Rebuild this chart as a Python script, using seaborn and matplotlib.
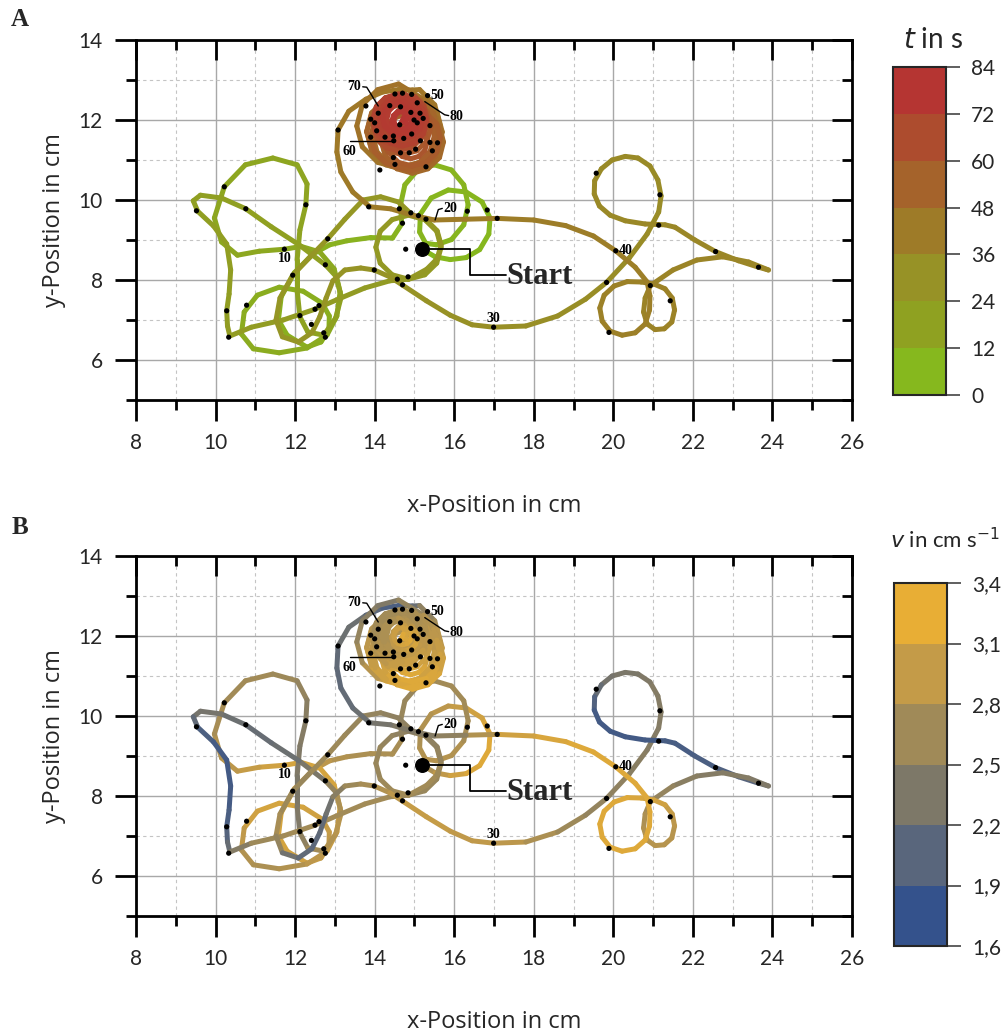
import numpy as np
import matplotlib
matplotlib.use("Agg")
import matplotlib.pyplot as plt
import seaborn as sns
from matplotlib.collections import LineCollection
from matplotlib.colors import LinearSegmentedColormap, ListedColormap, BoundaryNorm, Normalize

# ---------------- data: track waypoints (x cm, y cm, t s, v cm/s) ----------------
path_start = [(15.20, 8.77, 0.00, 2.7), (15.52, 8.58, 0.15, 2.9), (15.90, 8.51, 0.30, 3.1), (16.30, 8.56, 0.45, 3.2),
              (16.64, 8.76, 0.60, 3.3), (16.87, 9.15, 0.75, 3.3), (16.90, 9.55, 0.90, 3.3), (16.70, 9.95, 1.05, 3.2),
              (16.30, 10.20, 1.20, 3.1), (15.85, 10.25, 1.35, 3.0), (15.42, 10.05, 1.50, 2.9), (15.15, 9.65, 1.65, 2.8),
              (15.13, 9.20, 1.80, 2.8), (15.28, 8.92, 1.92, 2.9), (15.55, 8.88, 2.02, 2.9), (15.93, 9.01, 2.15, 2.9),
              (16.24, 9.38, 2.30, 2.8), (16.35, 9.88, 2.45, 2.7), (16.24, 10.38, 2.60, 2.7), (15.93, 10.75, 2.75, 2.7),
              (15.50, 10.88, 2.90, 2.7), (15.08, 10.75, 3.05, 2.6), (14.76, 10.38, 3.20, 2.6), (14.65, 9.88, 3.35, 2.6),
              (14.68, 9.40, 3.50, 2.7), (14.45, 9.05, 3.70, 2.8), (13.90, 9.06, 3.90, 2.8), (13.30, 8.98, 4.15, 2.8),
              (12.87, 8.88, 4.40, 2.9)]
path_lowleft = [(12.45, 8.65, 4.6, 3.0), (11.98, 8.18, 4.85, 3.1), (11.65, 7.58, 5.1, 3.2), (11.58, 7.00, 5.3, 3.2),
                (11.80, 6.62, 5.5, 3.2), (12.30, 6.32, 5.75, 3.1), (12.65, 6.45, 5.9, 3.0), (12.85, 6.75, 6.05, 3.0),
                (12.86, 7.10, 6.2, 3.0), (12.68, 7.42, 6.4, 3.1), (12.20, 7.72, 6.6, 3.2), (11.60, 7.82, 6.8, 3.2),
                (11.05, 7.62, 7.0, 3.2), (10.72, 7.20, 7.2, 3.1), (10.65, 6.65, 7.4, 2.9), (10.95, 6.28, 7.6, 2.8),
                (11.60, 6.18, 7.85, 2.8), (12.30, 6.30, 8.1, 2.9), (12.80, 6.62, 8.3, 3.0), (13.05, 7.10, 8.5, 3.1),
                (13.13, 7.70, 8.75, 3.2), (12.98, 8.28, 9.0, 3.2), (12.62, 8.70, 9.25, 3.2), (12.15, 8.84, 9.5, 3.2),
                (11.74, 8.77, 10.0, 3.2)]
path_upleft = [(11.10, 8.72, 10.25, 3.1), (10.55, 8.62, 10.45, 3.0), (10.15, 8.95, 10.65, 2.9), (9.97, 9.55, 10.85, 2.8),
               (10.22, 10.33, 11.1, 2.7), (10.75, 10.88, 11.35, 2.7), (11.44, 11.05, 11.6, 2.7), (12.05, 10.88, 11.85, 2.6),
               (12.30, 10.40, 12.05, 2.5), (12.27, 9.88, 12.25, 2.4), (12.12, 9.25, 12.5, 2.4), (12.05, 8.50, 12.8, 2.3),
               (12.05, 7.75, 13.1, 2.3), (12.12, 7.08, 13.35, 2.4), (12.32, 6.70, 13.55, 2.6), (12.72, 6.62, 13.75, 2.8),
               (13.02, 7.05, 13.95, 2.9), (13.16, 7.58, 14.15, 2.9), (13.04, 8.08, 14.35, 2.7), (12.77, 8.37, 14.5, 2.4),
               (12.10, 8.88, 14.85, 2.2), (11.40, 9.33, 15.2, 2.1), (10.76, 9.78, 15.55, 2.1), (10.15, 10.05, 15.85, 2.2),
               (9.62, 10.12, 16.1, 2.3), (9.44, 9.98, 16.25, 2.2), (9.55, 9.72, 16.4, 1.9), (9.95, 9.35, 16.7, 1.8),
               (10.28, 8.90, 17.05, 1.75), (10.38, 8.25, 17.45, 1.75), (10.34, 7.65, 17.8, 1.8), (10.28, 7.23, 18.05, 1.85),
               (10.30, 6.85, 18.3, 2.0), (10.36, 6.60, 18.45, 2.2)]
path_middle = [(10.90, 6.82, 18.75, 2.6), (11.70, 7.00, 19.05, 2.7), (12.50, 7.27, 19.35, 2.7), (13.15, 7.55, 19.6, 2.7),
               (13.75, 7.80, 19.85, 2.7), (14.38, 7.98, 20.1, 2.7), (14.85, 8.02, 20.3, 2.6), (15.26, 8.13, 20.45, 2.6),
               (15.56, 8.42, 20.6, 2.6), (15.67, 8.82, 20.75, 2.6), (15.56, 9.22, 20.9, 2.6), (15.26, 9.51, 21.05, 2.5),
               (14.85, 9.62, 21.2, 2.5), (14.44, 9.51, 21.35, 2.5), (14.14, 9.22, 21.5, 2.6), (14.03, 8.82, 21.65, 2.6),
               (14.14, 8.42, 21.8, 2.6), (14.44, 8.13, 21.95, 2.7), (14.85, 8.02, 22.1, 2.7), (15.31, 8.27, 22.3, 2.7),
               (15.57, 8.53, 22.45, 2.7), (15.67, 8.88, 22.6, 2.6), (15.57, 9.23, 22.75, 2.5), (15.31, 9.49, 22.9, 2.5),
               (14.95, 9.62, 23.05, 2.5), (14.60, 9.95, 23.2, 2.5), (14.15, 10.08, 23.35, 2.5), (13.71, 10.00, 23.5, 2.6),
               (13.25, 9.52, 23.75, 2.6), (12.82, 9.03, 24.0, 2.7), (12.35, 8.55, 24.25, 2.6), (11.94, 8.12, 24.5, 2.6),
               (11.62, 7.55, 24.75, 2.7), (11.52, 7.00, 24.95, 2.8), (11.68, 6.58, 25.15, 2.3), (12.08, 6.45, 25.35, 2.1),
               (12.42, 6.68, 25.55, 2.0), (12.62, 7.08, 25.75, 2.0), (12.78, 7.55, 26.0, 2.1), (12.95, 7.98, 26.25, 2.3),
               (13.25, 8.25, 26.45, 2.6), (13.65, 8.30, 26.65, 2.7), (13.99, 8.25, 26.85, 2.8), (14.38, 8.08, 27.05, 2.9),
               (14.72, 7.86, 27.3, 3.0), (15.30, 7.48, 27.8, 3.1), (15.90, 7.12, 28.4, 3.0), (16.45, 6.88, 29.1, 3.0),
               (16.99, 6.82, 30.0, 3.0)]
path_right = [(17.80, 6.85, 30.35, 2.9), (18.60, 7.10, 30.65, 2.7), (19.30, 7.52, 31.0, 2.6), (19.83, 7.94, 31.25, 2.5),
              (20.40, 8.55, 31.55, 2.5), (20.85, 9.15, 31.8, 2.4), (21.14, 9.70, 32.0, 2.4), (21.20, 10.10, 32.15, 2.4),
              (21.12, 10.50, 32.3, 2.4), (20.92, 10.85, 32.45, 2.4), (20.62, 11.05, 32.6, 2.3), (20.30, 11.09, 32.75, 2.3),
              (19.97, 11.00, 32.9, 2.3), (19.70, 10.78, 33.05, 2.2), (19.53, 10.48, 33.2, 2.0), (19.52, 10.15, 33.35, 1.8),
              (19.65, 9.85, 33.5, 1.75), (19.92, 9.62, 33.65, 1.75), (20.30, 9.48, 33.85, 1.75), (20.80, 9.40, 34.05, 1.75),
              (21.30, 9.38, 34.25, 1.8), (21.55, 9.32, 34.35, 1.8), (22.05, 9.00, 34.6, 1.8), (22.57, 8.71, 34.85, 1.85),
              (23.15, 8.48, 35.1, 1.9), (23.65, 8.32, 35.3, 2.0), (23.90, 8.25, 35.4, 2.3), (23.40, 8.45, 35.6, 2.4),
              (22.75, 8.58, 35.85, 2.4), (22.10, 8.50, 36.1, 2.4), (21.50, 8.25, 36.35, 2.5), (20.93, 7.86, 36.6, 2.6),
              (20.80, 7.55, 36.72, 2.8), (20.76, 7.20, 36.84, 2.8), (20.85, 6.90, 36.96, 2.9), (21.05, 6.76, 37.08, 2.9),
              (21.28, 6.78, 37.2, 2.9), (21.47, 6.95, 37.32, 2.9), (21.54, 7.25, 37.44, 2.9), (21.48, 7.55, 37.56, 3.0),
              (21.30, 7.78, 37.68, 3.1), (21.02, 7.90, 37.8, 3.2), (20.70, 7.95, 37.92, 3.2), (20.35, 7.96, 38.05, 3.3),
              (20.02, 7.85, 38.2, 3.3), (19.77, 7.62, 38.35, 3.3), (19.66, 7.30, 38.5, 3.3), (19.72, 6.97, 38.65, 3.3),
              (19.92, 6.72, 38.8, 3.3), (20.22, 6.62, 38.95, 3.3), (20.55, 6.68, 39.1, 3.3), (20.80, 6.90, 39.25, 3.3),
              (20.91, 7.25, 39.4, 3.3), (20.92, 7.60, 39.55, 3.3), (20.85, 7.95, 39.7, 3.3), (20.55, 8.32, 39.85, 3.3),
              (20.06, 8.73, 40.0, 3.3)]
path_return = [(19.50, 9.10, 40.25, 3.3), (18.80, 9.36, 40.55, 3.3), (18.00, 9.50, 40.85, 3.2), (17.09, 9.54, 41.15, 3.1),
               (16.30, 9.52, 41.45, 2.6), (15.50, 9.50, 41.75, 2.4), (14.95, 9.62, 41.95, 2.4), (14.40, 9.78, 42.15, 2.3),
               (13.88, 9.83, 42.35, 2.2), (13.45, 10.20, 42.6, 2.1), (13.15, 10.70, 42.85, 2.05), (13.05, 11.20, 43.1, 2.0),
               (13.08, 11.75, 43.35, 2.1), (13.35, 12.22, 43.6, 2.2), (13.78, 12.52, 43.85, 2.1), (14.20, 12.70, 44.1, 1.9),
               (14.60, 12.76, 44.35, 1.8), (14.95, 12.75, 44.6, 1.85)]

# circling phase at the feeding spot (t = 44.6 ... 84 s), 12 waypoints per turn
blob_x = [15.13, 15.51, 15.65, 15.51, 15.13, 14.60, 14.08, 13.69, 13.55, 13.69, 14.08, 14.60,
          15.23, 15.57, 15.70, 15.57, 15.23, 14.75, 14.28, 13.93, 13.80, 13.93, 14.28, 14.75,
          15.23, 15.54, 15.65, 15.54, 15.23, 14.80, 14.38, 14.06, 13.95, 14.06, 14.38, 14.80,
          15.34, 15.63, 15.73, 15.63, 15.34, 14.95, 14.56, 14.28, 14.17, 14.28, 14.56, 14.95,
          15.15, 15.48, 15.60, 15.48, 15.15, 14.70, 14.25, 13.92, 13.80, 13.92, 14.25, 14.70,
          15.26, 15.52, 15.62, 15.52, 15.26, 14.90, 14.54, 14.28, 14.18, 14.28, 14.54, 14.90,
          15.10, 15.39, 15.50, 15.39, 15.10, 14.70, 14.30, 14.01, 13.90, 14.01, 14.30, 14.70,
          15.30, 15.56, 15.65, 15.56, 15.30, 14.95, 14.60, 14.34, 14.25, 14.34, 14.60, 14.95,
          15.06, 15.32, 15.42, 15.32, 15.06, 14.70, 14.34, 14.08, 13.98, 14.08, 14.34, 14.70,
          15.11, 15.26, 15.32, 15.26, 15.11, 14.90, 14.69, 14.54, 14.48, 14.54, 14.69, 14.90,
          14.99, 15.24, 15.33, 15.24, 14.99, 14.65, 14.31, 14.06, 13.97, 14.06, 14.31, 14.65,
          15.05, 15.16, 15.20, 15.16, 15.05, 14.90, 14.75, 14.64, 14.60, 14.64, 14.75, 14.90,
          14.91, 15.14, 15.22, 15.14, 14.91, 14.60, 14.29, 14.06, 13.98, 14.06, 14.29, 14.60,
          15.01, 15.24, 15.32, 15.24, 15.01, 14.70, 14.39, 14.16, 14.08, 14.16, 14.39, 14.70,
          14.93, 15.16, 15.25, 15.16, 14.93, 14.60, 14.28, 14.04, 13.95, 14.04, 14.28, 14.60,
          15.03, 15.23, 15.30, 15.23, 15.03, 14.75, 14.48, 14.27, 14.20, 14.27, 14.48, 14.75,
          14.84, 15.05, 15.13, 15.05, 14.84, 14.55, 14.26, 14.05, 13.97, 14.05, 14.26, 14.55,
          15.00, 15.22, 15.30, 15.22, 15.00, 14.70, 14.40, 14.18, 14.10, 14.18, 14.40, 14.70,
          14.90, 15.08, 15.15, 15.08, 14.90, 14.65, 14.40, 14.22, 14.15, 14.22, 14.40, 14.65,
          14.98, 15.14, 15.20, 15.14, 14.98, 14.75, 14.53, 14.36, 14.30, 14.36, 14.53, 14.75,
          14.80, 14.95, 15.00, 14.95, 14.80, 14.60, 14.40, 14.25, 14.20, 14.25, 14.40, 14.60,
          14.91, 15.03, 15.07, 15.03, 14.91, 14.75, 14.59, 14.47, 14.43, 14.47, 14.59, 14.75,
          14.81, 14.89, 14.92, 14.89, 14.81, 14.70, 14.59, 14.51, 14.48, 14.51, 14.59, 14.70,
          14.80, 14.78, 14.68, 14.72]
blob_y = [12.76, 12.38, 11.85, 11.33, 10.94, 10.80, 10.94, 11.33, 11.85, 12.38, 12.76, 12.90,
          12.52, 12.18, 11.70, 11.23, 10.88, 10.75, 10.88, 11.23, 11.70, 12.18, 12.52, 12.65,
          12.36, 12.05, 11.62, 11.20, 10.88, 10.77, 10.88, 11.20, 11.62, 12.05, 12.36, 12.47,
          12.13, 11.84, 11.45, 11.06, 10.78, 10.67, 10.78, 11.06, 11.45, 11.84, 12.13, 12.23,
          12.50, 12.17, 11.72, 11.27, 10.94, 10.82, 10.94, 11.27, 11.72, 12.17, 12.50, 12.62,
          12.07, 11.81, 11.45, 11.09, 10.83, 10.73, 10.83, 11.09, 11.45, 11.81, 12.07, 12.17,
          12.29, 12.00, 11.60, 11.20, 10.91, 10.80, 10.91, 11.20, 11.60, 12.00, 12.29, 12.40,
          12.16, 11.90, 11.55, 11.20, 10.94, 10.85, 10.94, 11.20, 11.55, 11.90, 12.16, 12.25,
          12.47, 12.21, 11.85, 11.49, 11.23, 11.13, 11.23, 11.49, 11.85, 12.21, 12.47, 12.57,
          11.81, 11.66, 11.45, 11.24, 11.09, 11.03, 11.09, 11.24, 11.45, 11.66, 11.81, 11.87,
          12.54, 12.29, 11.95, 11.61, 11.36, 11.27, 11.36, 11.61, 11.95, 12.29, 12.54, 12.63,
          12.01, 11.90, 11.75, 11.60, 11.49, 11.45, 11.49, 11.60, 11.75, 11.90, 12.01, 12.05,
          12.39, 12.16, 11.85, 11.54, 11.31, 11.23, 11.31, 11.54, 11.85, 12.16, 12.39, 12.47,
          12.59, 12.36, 12.05, 11.74, 11.51, 11.43, 11.51, 11.74, 12.05, 12.36, 12.59, 12.67,
          12.56, 12.33, 12.00, 11.68, 11.44, 11.35, 11.44, 11.68, 12.00, 12.33, 12.56, 12.65,
          12.53, 12.33, 12.05, 11.78, 11.57, 11.50, 11.57, 11.78, 12.05, 12.33, 12.53, 12.60,
          12.55, 12.34, 12.05, 11.76, 11.55, 11.47, 11.55, 11.76, 12.05, 12.34, 12.55, 12.63,
          12.47, 12.25, 11.95, 11.65, 11.43, 11.35, 11.43, 11.65, 11.95, 12.25, 12.47, 12.55,
          12.53, 12.35, 12.10, 11.85, 11.67, 11.60, 11.67, 11.85, 12.10, 12.35, 12.53, 12.60,
          12.39, 12.23, 12.00, 11.78, 11.61, 11.55, 11.61, 11.78, 12.00, 12.23, 12.39, 12.45,
          12.40, 12.25, 12.05, 11.85, 11.70, 11.65, 11.70, 11.85, 12.05, 12.25, 12.40, 12.45,
          12.23, 12.11, 11.95, 11.79, 11.67, 11.63, 11.67, 11.79, 11.95, 12.11, 12.23, 12.27,
          12.19, 12.11, 12.00, 11.89, 11.81, 11.78, 11.81, 11.89, 12.00, 12.11, 12.19, 12.22,
          12.05, 11.92, 11.95, 12.05]
blob_t = [44.8, 45.0, 45.3, 45.5, 45.7, 45.9, 46.1, 46.3, 46.6, 46.8, 47.0, 47.2,
          47.4, 47.6, 47.8, 48.0, 48.2, 48.4, 48.6, 48.8, 49.0, 49.2, 49.4, 49.6,
          49.8, 50.0, 50.2, 50.3, 50.5, 50.7, 50.9, 51.1, 51.3, 51.4, 51.6, 51.8,
          52.0, 52.1, 52.3, 52.5, 52.6, 52.8, 53.0, 53.1, 53.3, 53.5, 53.6, 53.8,
          54.0, 54.2, 54.4, 54.5, 54.7, 54.9, 55.1, 55.3, 55.5, 55.6, 55.8, 56.0,
          56.2, 56.3, 56.5, 56.6, 56.8, 56.9, 57.1, 57.2, 57.4, 57.5, 57.7, 57.8,
          58.0, 58.1, 58.3, 58.5, 58.6, 58.8, 59.0, 59.1, 59.3, 59.5, 59.6, 59.8,
          60.0, 60.1, 60.3, 60.4, 60.6, 60.7, 60.9, 61.0, 61.2, 61.3, 61.5, 61.6,
          61.8, 61.9, 62.1, 62.2, 62.4, 62.5, 62.7, 62.8, 63.0, 63.1, 63.3, 63.4,
          63.5, 63.7, 63.8, 63.9, 64.1, 64.2, 64.3, 64.5, 64.6, 64.7, 64.9, 65.0,
          65.1, 65.3, 65.4, 65.6, 65.7, 65.9, 66.0, 66.1, 66.3, 66.4, 66.6, 66.7,
          66.8, 67.0, 67.1, 67.2, 67.3, 67.5, 67.6, 67.7, 67.8, 68.0, 68.1, 68.2,
          68.3, 68.5, 68.6, 68.7, 68.9, 69.0, 69.1, 69.3, 69.4, 69.5, 69.7, 69.8,
          69.9, 70.1, 70.2, 70.3, 70.5, 70.6, 70.7, 70.9, 71.0, 71.1, 71.3, 71.4,
          71.5, 71.7, 71.8, 71.9, 72.1, 72.2, 72.3, 72.5, 72.6, 72.7, 72.9, 73.0,
          73.1, 73.2, 73.4, 73.5, 73.6, 73.7, 73.8, 73.9, 74.1, 74.2, 74.3, 74.4,
          74.5, 74.7, 74.8, 74.9, 75.0, 75.2, 75.3, 75.4, 75.5, 75.7, 75.8, 75.9,
          76.0, 76.2, 76.3, 76.4, 76.5, 76.7, 76.8, 76.9, 77.0, 77.2, 77.3, 77.4,
          77.5, 77.6, 77.7, 77.8, 78.0, 78.1, 78.2, 78.3, 78.4, 78.5, 78.6, 78.7,
          78.8, 78.9, 79.0, 79.1, 79.2, 79.3, 79.4, 79.5, 79.6, 79.7, 79.8, 79.9,
          80.0, 80.1, 80.2, 80.3, 80.4, 80.5, 80.6, 80.7, 80.8, 80.9, 80.95, 81.0,
          81.1, 81.15, 81.2, 81.3, 81.4, 81.45, 81.5, 81.6, 81.7, 81.75, 81.8, 81.9,
          81.95, 82.0, 82.1, 82.15, 82.2, 82.25, 82.3, 82.35, 82.4, 82.45, 82.5, 82.6,
          83.0, 83.4, 83.7, 84.0]
blob_v = [2.4, 2.6, 2.8, 3.0, 3.1, 3.1, 3.0, 2.8, 2.6, 2.5, 2.4, 2.3,
          2.8, 2.9, 3.0, 3.1, 3.2, 3.3, 3.2, 3.1, 3.0, 2.9, 2.8, 2.7,
          2.8, 2.9, 3.0, 3.1, 3.2, 3.3, 3.2, 3.1, 3.0, 2.9, 2.8, 2.7,
          2.9, 3.0, 3.1, 3.2, 3.3, 3.3, 3.3, 3.2, 3.1, 3.0, 2.9, 2.8,
          2.8, 2.9, 3.0, 3.1, 3.2, 3.3, 3.2, 3.1, 3.0, 2.9, 2.8, 2.7,
          2.9, 3.0, 3.1, 3.2, 3.3, 3.3, 3.3, 3.2, 3.1, 3.0, 2.9, 2.8,
          2.8, 2.9, 3.0, 3.1, 3.2, 3.3, 3.2, 3.1, 3.0, 2.9, 2.8, 2.7,
          2.9, 3.0, 3.1, 3.2, 3.3, 3.3, 3.3, 3.2, 3.1, 3.0, 2.9, 2.8,
          2.8, 2.9, 3.0, 3.1, 3.2, 3.2, 3.1, 3.0, 2.9, 2.8, 2.7, 2.7,
          2.9, 3.0, 3.1, 3.2, 3.3, 3.3, 3.3, 3.2, 3.1, 3.0, 2.9, 2.8,
          2.8, 2.8, 2.9, 3.0, 3.1, 3.1, 3.0, 2.9, 2.8, 2.7, 2.7, 2.7,
          2.9, 3.0, 3.1, 3.2, 3.3, 3.3, 3.2, 3.1, 3.0, 2.9, 2.8, 2.8,
          2.8, 2.8, 2.9, 3.0, 3.1, 3.1, 3.0, 2.9, 2.8, 2.7, 2.7, 2.7,
          2.8, 2.8, 2.9, 3.0, 3.0, 3.0, 2.9, 2.8, 2.8, 2.7, 2.7, 2.7,
          2.8, 2.8, 2.9, 3.0, 3.1, 3.1, 3.0, 2.9, 2.8, 2.7, 2.7, 2.7,
          2.8, 2.8, 2.9, 2.9, 3.0, 3.0, 2.9, 2.8, 2.8, 2.7, 2.7, 2.7,
          2.7, 2.8, 2.9, 3.0, 3.0, 3.0, 2.9, 2.8, 2.7, 2.7, 2.7, 2.7,
          2.8, 2.8, 2.9, 3.0, 3.1, 3.1, 3.0, 2.9, 2.8, 2.7, 2.7, 2.7,
          2.7, 2.8, 2.8, 2.9, 3.0, 3.0, 2.9, 2.8, 2.8, 2.7, 2.7, 2.7,
          2.8, 2.8, 2.9, 3.0, 3.0, 3.0, 2.9, 2.8, 2.8, 2.8, 2.8, 2.8,
          2.8, 2.9, 3.0, 3.0, 3.0, 2.9, 2.9, 2.8, 2.8, 2.8, 2.8, 2.8,
          3.0, 3.1, 3.2, 3.2, 3.2, 3.1, 3.0, 3.0, 3.0, 3.0, 3.0, 3.0,
          3.1, 3.2, 3.2, 3.3, 3.3, 3.2, 3.2, 3.1, 3.1, 3.1, 3.1, 3.1,
          3.2, 3.2, 3.3, 3.3]

# one black marker per second (positions)
dot_x = [10.22, 9.52, 10.76, 12.27, 11.73, 12.82, 12.76, 11.94, 13.99, 10.28, 10.78, 12.12, 12.50, 12.60, 12.41,
         12.72, 12.76, 10.33, 13.85, 14.62, 14.91, 15.10, 15.29, 14.70, 14.78, 16.33, 16.83, 17.08, 14.57, 14.84,
         14.70, 16.99, 13.08, 20.06, 19.83, 21.14, 21.17, 19.57, 22.57, 20.93, 21.43, 19.89, 23.65,
         13.78, 14.13, 14.51, 14.70, 14.93, 15.33, 14.38, 14.65, 15.07, 14.09, 13.90, 14.00, 14.91, 15.14, 15.22,
         14.99, 15.07, 14.63, 15.39, 14.05, 14.26, 14.93, 15.15, 13.90, 14.47, 14.48, 14.73, 15.39, 15.58, 14.65,
         14.87, 15.03, 15.45, 14.47, 14.51, 15.29]
dot_y = [10.33, 9.73, 9.78, 9.88, 8.77, 9.03, 8.38, 8.12, 8.25, 7.23, 7.37, 7.11, 7.27, 7.36, 6.89,
         6.68, 6.57, 6.57, 9.83, 9.78, 9.68, 9.61, 9.52, 9.42, 8.77, 9.72, 9.75, 9.54, 8.02, 8.08,
         7.88, 6.82, 11.75, 8.73, 7.94, 9.37, 10.13, 10.67, 8.71, 7.86, 7.48, 6.69, 8.32,
         12.35, 10.75, 12.65, 12.67, 12.64, 12.61, 12.36, 12.33, 12.43, 12.17, 12.02, 11.93, 12.19, 12.17, 12.04,
         12.00, 11.93, 11.88, 11.86, 11.73, 11.57, 11.65, 11.48, 11.57, 11.60, 11.48, 11.54, 11.44, 11.43, 11.18,
         11.18, 11.27, 11.23, 11.06, 10.89, 10.83]
start_xy = (15.20, 8.77)

t_colors = ['#86b81e', '#8fa121', '#979226', '#9e7b28', '#a5632b', '#ad4c2e', '#b53532']
t_bounds = [0, 12, 24, 36, 48, 60, 72, 84]
v_colors = ['#34528c', '#59667c', '#7d7868', '#a08a58', '#c49b48', '#e8ae35']
v_bounds = [1.6, 1.9, 2.2, 2.5, 2.8, 3.1, 3.4]
v_ticklabels = ['1,6', '1,9', '2,2', '2,5', '2,8', '3,1', '3,4']

# ---------------- figure ----------------
sns.set_theme(style="white")
plt.rcParams['font.family'] = ['Lato', 'DejaVu Sans']

rows = np.array(path_start + path_lowleft + path_upleft + path_middle + path_right + path_return)
track_x = np.concatenate([rows[:, 0], blob_x])
track_y = np.concatenate([rows[:, 1], blob_y])
track_t = np.concatenate([rows[:, 2], blob_t])
track_v = np.concatenate([rows[:, 3], blob_v])

fig = plt.figure(figsize=(10.04, 10.34), dpi=100)
W, H = 1004.0, 1034.0
def px_axes(l, t, r, b):
    return fig.add_axes([l / W, 1 - b / H, (r - l) / W, (b - t) / H])

axA = px_axes(136, 40, 852, 400)
axB = px_axes(136, 556, 852, 916)
caxA = px_axes(893, 67, 946, 395)
caxB = px_axes(894, 583, 947, 946)

serif = ['Liberation Serif', 'DejaVu Serif']
label_font = ['Open Sans', 'DejaVu Sans']
xmaj, xmin = np.arange(8, 27, 2), np.arange(9, 26, 2)
ymaj, ymin = np.arange(6, 15, 2), np.arange(5, 14, 2)

def style_axes(ax):
    ax.set_xlim(8, 26)
    ax.set_ylim(5, 14)
    ax.set_xticks(xmaj)
    ax.set_xticks(xmin, minor=True)
    ax.set_yticks(ymaj)
    ax.set_yticks(ymin, minor=True)
    ax.grid(which='major', color='#a8a8a8', lw=1.0)
    ax.grid(which='minor', color='#c4c4c4', lw=0.8, ls=(0, (3, 3)))
    ax.set_axisbelow(True)
    for s in ax.spines.values():
        s.set_linewidth(2.0)
        s.set_color('black')
    ax.tick_params(which='major', direction='out', length=15, width=2.0, pad=9,
                   labelsize=15, bottom=True, left=True, top=False, right=False, color='black')
    ax.tick_params(which='minor', direction='out', length=7, width=2.0,
                   bottom=True, left=True, top=False, right=False, color='black')
    # inward ticks on the top and right frame
    tx = ax.get_xaxis_transform()
    ty = ax.get_yaxis_transform()
    for xv in xmaj:
        ax.plot([xv, xv], [1, 1 - 20 / 360], transform=tx, color='black', lw=2.0, clip_on=False,
                solid_capstyle='butt', zorder=8)
    for xv in xmin:
        ax.plot([xv, xv], [1, 1 - 10 / 360], transform=tx, color='black', lw=2.0, clip_on=False,
                solid_capstyle='butt', zorder=8)
    for yv in ymaj:
        ax.plot([1, 1 - 20 / 716], [yv, yv], transform=ty, color='black', lw=2.0, clip_on=False,
                solid_capstyle='butt', zorder=8)
    for yv in ymin:
        ax.plot([1, 1 - 10 / 716], [yv, yv], transform=ty, color='black', lw=2.0, clip_on=False,
                solid_capstyle='butt', zorder=8)
    ax.set_xlabel('x-Position in cm', fontsize=17, family=label_font)
    ax.set_ylabel('y-Position in cm', fontsize=17, family=label_font)
    ax.xaxis.set_label_coords(0.5, -0.262)
    ax.yaxis.set_label_coords(-0.098, 0.5)

def draw_track(ax, values, cmap, norm):
    pts = np.column_stack([track_x, track_y])
    segs = np.stack([pts[:-1], pts[1:]], axis=1)
    mid = (values[:-1] + values[1:]) / 2
    lc = LineCollection(segs, cmap=cmap, norm=norm, linewidths=3.6,
                        capstyle='round', joinstyle='round', zorder=3)
    lc.set_array(mid)
    ax.add_collection(lc)
    sns.scatterplot(x=dot_x, y=dot_y, color='black', s=14, edgecolor='none', ax=ax, zorder=5, legend=False)
    ax.scatter([start_xy[0]], [start_xy[1]], s=95, color='black', zorder=6)

def annotate(ax):
    kw = dict(fontsize=10, fontweight='bold', family=serif, zorder=7, color='black')
    lw = 1.0
    ax.text(11.74, 8.55, '10', ha='center', va='center', **kw)
    ax.plot([15.52, 15.60, 15.70], [9.50, 9.76, 9.79], color='black', lw=lw, zorder=7)
    ax.text(15.72, 9.80, '20', ha='left', va='center', **kw)
    ax.text(16.99, 7.04, '30', ha='center', va='center', **kw)
    ax.text(20.13, 8.73, '40', ha='left', va='center', **kw)
    ax.text(15.40, 12.61, '50', ha='left', va='center', **kw)
    ax.plot([13.38, 14.47], [11.47, 11.47], color='black', lw=lw, zorder=7)
    ax.text(13.36, 11.22, '60', ha='center', va='center', **kw)
    ax.plot([13.70, 13.80, 14.09], [12.83, 12.82, 12.35], color='black', lw=lw, zorder=7)
    ax.text(13.48, 12.84, '70', ha='center', va='center', **kw)
    ax.plot([15.26, 15.76, 15.86], [12.46, 12.13, 12.11], color='black', lw=lw, zorder=7)
    ax.text(15.88, 12.10, '80', ha='left', va='center', **kw)
    ax.plot([15.40, 16.39, 16.39, 17.30], [8.77, 8.77, 8.125, 8.125], color='black', lw=1.3, zorder=7)
    ax.text(17.30, 8.10, 'Start', ha='left', va='center', fontsize=22, fontweight='bold',
            family=serif, zorder=7)

def draw_cbar(cax, colors, bounds, labels):
    cmap = ListedColormap(colors)
    norm = BoundaryNorm(bounds, cmap.N)
    sm = plt.cm.ScalarMappable(norm=norm, cmap=cmap)
    cb = fig.colorbar(sm, cax=cax, ticks=bounds)
    cb.ax.set_yticklabels(labels)
    cb.outline.set_linewidth(1.5)
    cb.ax.tick_params(length=10, width=1.2, pad=8, labelsize=15, color='#444444')
    cb.ax.minorticks_off()
    return cb

t_cmap = LinearSegmentedColormap.from_list('tmap', t_colors)
v_cmap = LinearSegmentedColormap.from_list('vmap', v_colors)

for ax in (axA, axB):
    style_axes(ax)
draw_track(axA, track_t, t_cmap, Normalize(0, 84))
draw_track(axB, track_v, v_cmap, Normalize(1.6, 3.4))
annotate(axA)
annotate(axB)

draw_cbar(caxA, t_colors, t_bounds, [str(b) for b in t_bounds])
draw_cbar(caxB, v_colors, v_bounds, v_ticklabels)

fig.text(933 / W, 1 - 40 / H, r'$\it{t}$ in s', ha='center', va='center', fontsize=20)
fig.text(945 / W, 1 - 540 / H, r'$\it{v}$ in cm s$^{-1}$', ha='center', va='center', fontsize=16)
fig.text(20 / W, 1 - 20 / H, 'A', ha='center', va='center', fontsize=18, fontweight='bold', family=serif)
fig.text(20 / W, 1 - 528 / H, 'B', ha='center', va='center', fontsize=18, fontweight='bold', family=serif)

fig.savefig('out.png', dpi=100)
